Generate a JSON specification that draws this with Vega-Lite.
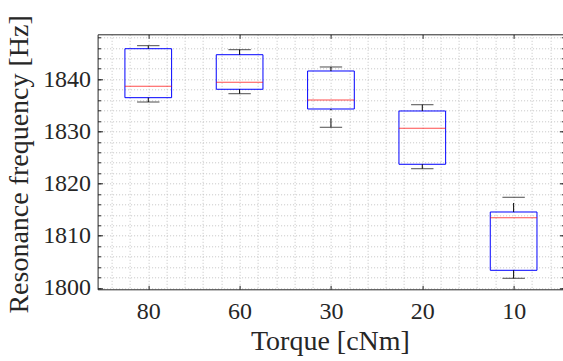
{
  "$schema": "https://vega.github.io/schema/vega-lite/v6.json",
  "width": 466.7,
  "height": 255,
  "autosize": {"type": "none"},
  "padding": {"left": 97.6, "top": 34.3, "right": 0, "bottom": 71.7},
  "background": "#ffffff",
  "config": {
    "view": {"stroke": null},
    "font": "Liberation Serif",
    "axis": {
      "domainColor": "#262626",
      "domainWidth": 1,
      "tickColor": "#262626",
      "tickWidth": 1,
      "labelColor": "#262626",
      "titleColor": "#262626",
      "labelFont": "Liberation Serif",
      "titleFont": "Liberation Serif",
      "labelFontSize": 24,
      "titleFontSize": 28,
      "titleFontWeight": "normal",
      "gridColor": "#c4c4c4",
      "gridDash": [1, 2],
      "gridWidth": 1
    }
  },
  "data": {
    "values": [
      {"torque": "80", "pos": 1, "lower": 1835.63, "q1": 1836.46, "median": 1838.64, "q3": 1845.84, "upper": 1846.42},
      {"torque": "60", "pos": 2, "lower": 1837.22, "q1": 1838.07, "median": 1839.41, "q3": 1844.69, "upper": 1845.65},
      {"torque": "30", "pos": 3, "lower": 1830.79, "q1": 1834.29, "median": 1836.02, "q3": 1841.57, "upper": 1842.34},
      {"torque": "20", "pos": 4, "lower": 1822.85, "q1": 1823.70, "median": 1830.59, "q3": 1833.91, "upper": 1835.11},
      {"torque": "10", "pos": 5, "lower": 1801.86, "q1": 1803.39, "median": 1813.47, "q3": 1814.56, "upper": 1817.38}
    ]
  },
  "resolve": {"axis": {"x": "independent", "y": "independent"}},
  "layer": [
    {
      "mark": {"type": "bar", "filled": false, "color": "#0000ff", "size": 46.7, "strokeWidth": 1},
      "encoding": {
        "x": {
          "field": "pos", "type": "quantitative",
          "scale": {"domain": [0.5, 5.5], "nice": false, "zero": false},
          "axis": {
            "orient": "bottom",
            "values": [0.6, 0.8, 1, 1.2, 1.4, 1.6, 1.8, 2, 2.2, 2.4, 2.6, 2.8, 3, 3.2, 3.4, 3.6, 3.8, 4, 4.2, 4.4, 4.6, 4.8, 5, 5.2, 5.4],
            "labels": false, "ticks": false, "domain": false, "grid": true, "title": null
          }
        },
        "y": {
          "field": "q1", "type": "quantitative",
          "scale": {"domain": [1799.75, 1848.6], "nice": false, "zero": false},
          "axis": {
            "orient": "left",
            "values": [1800, 1802, 1804, 1806, 1808, 1810, 1812, 1814, 1816, 1818, 1820, 1822, 1824, 1826, 1828, 1830, 1832, 1834, 1836, 1838, 1840, 1842, 1844, 1846, 1848],
            "labels": false, "ticks": true, "tickSize": -3, "domain": false, "grid": true, "title": null
          }
        },
        "y2": {"field": "q3"}
      }
    },
    {
      "mark": {"type": "tick", "orient": "horizontal", "color": "#ff0000", "size": 46.7, "thickness": 1},
      "encoding": {
        "x": {
          "field": "pos", "type": "quantitative",
          "axis": {
            "orient": "bottom",
            "values": [1, 2, 3, 4, 5],
            "labelExpr": "['', '80', '60', '30', '20', '10'][round(datum.value)]",
            "labelBaseline": "alphabetic",
            "labelPadding": 29,
            "labelFlush": false,
            "ticks": false,
            "grid": false,
            "domain": true,
            "title": "Torque [cNm]",
            "titleBaseline": "alphabetic",
            "titleAlign": "center",
            "titleX": 232.3,
            "titleY": 60.7
          }
        },
        "y": {
          "field": "median", "type": "quantitative",
          "axis": {
            "orient": "left",
            "values": [1800, 1810, 1820, 1830, 1840],
            "format": "d",
            "labelPadding": 7,
            "labelFlush": false,
            "ticks": false,
            "grid": false,
            "domain": true,
            "title": "Resonance frequency [Hz]",
            "titleAngle": -90,
            "titleBaseline": "alphabetic",
            "titleAlign": "center",
            "titleX": -70,
            "titleY": 129.6
          }
        }
      }
    },
    {
      "mark": {"type": "rule", "color": "#000000", "strokeWidth": 1, "strokeDash": [9, 8]},
      "encoding": {
        "x": {
          "field": "pos", "type": "quantitative",
          "axis": {"orient": "top", "values": [1, 2, 3, 4, 5], "labels": false, "grid": false, "tickSize": -4, "domain": true, "title": null}
        },
        "y": {
          "field": "lower", "type": "quantitative",
          "axis": {
            "orient": "right",
            "values": [1800, 1802, 1804, 1806, 1808, 1810, 1812, 1814, 1816, 1818, 1820, 1822, 1824, 1826, 1828, 1830, 1832, 1834, 1836, 1838, 1840, 1842, 1844, 1846, 1848],
            "labels": false, "grid": false, "tickSize": -3, "domain": true, "title": null
          }
        },
        "y2": {"field": "q1"}
      }
    },
    {
      "mark": {"type": "rule", "color": "#000000", "strokeWidth": 1, "strokeDash": [9, 8]},
      "encoding": {
        "x": {
          "field": "pos", "type": "quantitative",
          "axis": {"orient": "bottom", "values": [1, 2, 3, 4, 5], "labels": false, "grid": false, "tickSize": -4, "domain": false, "title": null}
        },
        "y": {
          "field": "q3", "type": "quantitative",
          "axis": {"orient": "left", "values": [1800, 1810, 1820, 1830, 1840], "labels": false, "grid": false, "tickSize": -5, "domain": false, "title": null}
        },
        "y2": {"field": "upper"}
      }
    },
    {
      "mark": {"type": "tick", "orient": "horizontal", "color": "#000000", "size": 22.4, "thickness": 1},
      "encoding": {
        "x": {"field": "pos", "type": "quantitative", "axis": null},
        "y": {
          "field": "lower", "type": "quantitative",
          "axis": {"orient": "right", "values": [1800, 1810, 1820, 1830, 1840], "labels": false, "grid": false, "tickSize": -5, "domain": false, "title": null}
        }
      }
    },
    {
      "mark": {"type": "tick", "orient": "horizontal", "color": "#000000", "size": 22.4, "thickness": 1},
      "encoding": {
        "x": {"field": "pos", "type": "quantitative", "axis": null},
        "y": {"field": "upper", "type": "quantitative", "axis": null}
      }
    }
  ]
}
